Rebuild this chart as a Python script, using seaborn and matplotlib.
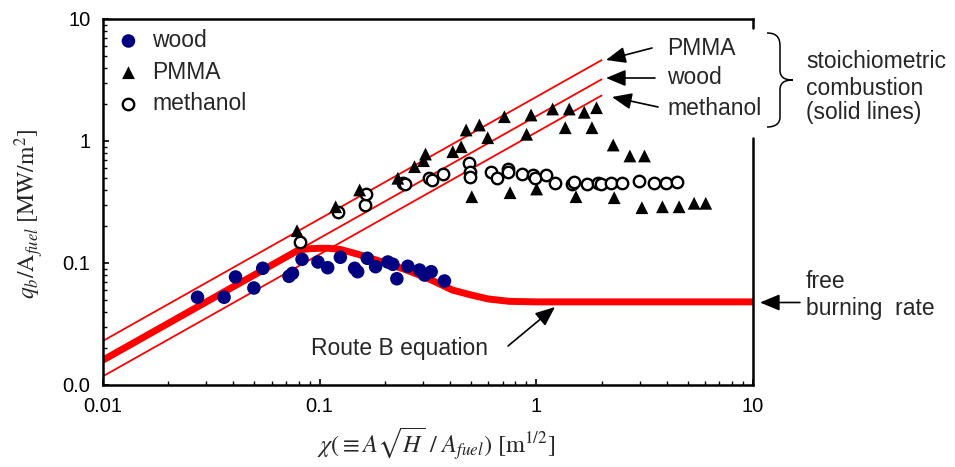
import matplotlib
matplotlib.use("Agg")
import matplotlib.pyplot as plt
import seaborn as sns
from matplotlib.path import Path
from matplotlib.patches import PathPatch, FancyArrowPatch
from matplotlib.lines import Line2D
from matplotlib.ticker import NullFormatter, LogLocator, FixedLocator

# ---------------- data ----------------
wood_x = [0.0273, 0.0362, 0.0409, 0.0497, 0.0546, 0.0722, 0.0749, 0.0829, 0.0982,
          0.1089, 0.1246, 0.145, 0.1497, 0.1659, 0.1812, 0.2064, 0.2177, 0.2271,
          0.2552, 0.289, 0.3047, 0.327, 0.3767]
wood_y = [0.0524, 0.0524, 0.0768, 0.0624, 0.0905, 0.0778, 0.0823, 0.1072, 0.1019,
          0.0915, 0.1114, 0.0905, 0.0848, 0.1093, 0.0933, 0.1019, 0.0976, 0.0743,
          0.094, 0.0876, 0.0797, 0.0848, 0.0712]

pmma_x = [0.0786, 0.1185, 0.1529, 0.2295, 0.274, 0.3016, 0.308, 0.4114, 0.4498,
          0.4743, 0.5461, 0.5965, 0.712, 0.9454, 0.902, 1.189, 1.419, 1.36, 1.664,
          1.806, 1.896, 2.264, 2.703, 3.156, 0.5035, 0.7565, 1.003, 1.524, 2.288,
          3.07, 3.819, 4.56, 5.348, 6.053]
pmma_y = [0.184, 0.289, 0.397, 0.495, 0.616, 0.69, 0.782, 0.817, 0.898,
          1.231, 1.352, 1.064, 1.582, 1.634, 1.135, 1.829, 1.829, 1.285, 1.719,
          1.285, 1.875, 0.927, 0.754, 0.754, 0.3495, 0.377, 0.404, 0.3495, 0.343,
          0.284, 0.289, 0.289, 0.3086, 0.3086]

meth_x = [0.0815, 0.1214, 0.1612, 0.163, 0.2421, 0.2464, 0.3213, 0.3307, 0.370,
          0.4912, 0.4948, 0.4948, 0.6182, 0.6561, 0.7374, 0.7374, 0.8591, 0.9687,
          0.9895, 1.108, 1.219, 1.461, 1.497, 1.705, 1.917, 1.987, 2.209, 2.498,
          2.983, 3.499, 3.961, 4.48]
meth_y = [0.1478, 0.2634, 0.2988, 0.3658, 0.450, 0.4417, 0.5002, 0.4789, 0.5314,
          0.6567, 0.5539, 0.504, 0.5604, 0.5002, 0.5896, 0.554, 0.5365, 0.5264,
          0.5002, 0.5264, 0.450, 0.4417, 0.4587, 0.4417, 0.450, 0.4417, 0.450, 0.450,
          0.470, 0.450, 0.450, 0.4587]

# stoichiometric combustion lines (end points)
stoich_x = [0.01, 2.0]
stoich_pmma = [0.023, 4.6]
stoich_wood = [0.016, 3.2]
stoich_meth = [0.0118, 2.36]

# Route B equation curve
routeb_x = [0.01, 0.03, 0.06, 0.08, 0.09, 0.1, 0.11, 0.125, 0.15, 0.2, 0.25,
            0.32, 0.41, 0.5, 0.6, 0.75, 1.0, 2.0, 5.0, 10.0]
routeb_y = [0.016, 0.048, 0.096, 0.128, 0.131, 0.132, 0.132, 0.129, 0.118, 0.1005,
            0.088, 0.074, 0.060, 0.0547, 0.0507, 0.0485, 0.048, 0.048, 0.048, 0.048]

xticks = [0.01, 0.1, 1, 10]
xticklabels = ["0.01", "0.1", "1", "10"]
yticks = [0.01, 0.1, 1, 10]
yticklabels = ["0.0", "0.1", "1", "10"]

# ---------------- style ----------------
sns.set_style("white")
plt.rcParams['font.family'] = ['Liberation Sans', 'DejaVu Sans']
plt.rcParams['mathtext.fontset'] = 'stix'

W, H = 955, 467
fig = plt.figure(figsize=(W / 100, H / 100), dpi=100)
L, R, T, B = 103, 753, 19, 385
ax = fig.add_axes([L / W, 1 - B / H, (R - L) / W, (B - T) / H])
ax.set_xscale('log')
ax.set_yscale('log')

RED = '#ff0000'
for ys in (stoich_pmma, stoich_wood, stoich_meth):
    sns.lineplot(x=stoich_x, y=ys, ax=ax, color=RED, lw=1.3, estimator=None,
                 sort=False, zorder=2)
sns.lineplot(x=routeb_x, y=routeb_y, ax=ax, color=RED, lw=5.0, estimator=None,
             sort=False, zorder=2, solid_capstyle='butt')

sns.scatterplot(x=wood_x, y=wood_y, ax=ax, marker='o', color='#000080', s=95,
                edgecolor='none', zorder=4, label='wood')
sns.scatterplot(x=pmma_x, y=pmma_y, ax=ax, marker='^', color='black', s=85,
                edgecolor='none', zorder=4, label='PMMA')
sns.scatterplot(x=meth_x, y=meth_y, ax=ax, marker='o', color='white', s=68,
                edgecolor='black', linewidth=1.7, zorder=3, label='methanol')

ax.set_xlim(0.01, 10)
ax.set_ylim(0.01, 10)
ax.xaxis.set_major_locator(FixedLocator(xticks))
ax.set_xticklabels(xticklabels)
ax.yaxis.set_major_locator(FixedLocator(yticks))
ax.set_yticklabels(yticklabels)
ax.xaxis.set_minor_locator(LogLocator(base=10, subs=range(2, 10)))
ax.yaxis.set_minor_locator(LogLocator(base=10, subs=range(2, 10)))
ax.xaxis.set_minor_formatter(NullFormatter())
ax.yaxis.set_minor_formatter(NullFormatter())
ax.tick_params(which='both', direction='in', top=False, right=False,
               bottom=True, left=True, colors='black')
ax.tick_params(which='major', length=4.5, width=1.2, labelsize=14.5, pad=9)
ax.tick_params(which='minor', length=3.2, width=1.0)
ax.set_xlabel('')
ax.set_ylabel('')

for s in ('top', 'left', 'bottom'):
    ax.spines[s].set_visible(True)
    ax.spines[s].set_linewidth(1.8)
    ax.spines[s].set_color('black')
ax.spines['right'].set_visible(False)
# broken right spine
gap_top = (B - 28) / (B - T)
gap_bot = (B - 138) / (B - T)
for y0, y1 in ((gap_top, 1.0), (0.0, gap_bot)):
    ax.add_line(Line2D([1, 1], [y0, y1], transform=ax.transAxes, color='black',
                       lw=1.8, clip_on=False, zorder=5))

# legend
handles, labels = ax.get_legend_handles_labels()
leg = ax.legend(handles, labels, loc='upper left', frameon=False,
                bbox_to_anchor=(117 / W, 1 - 29 / H), bbox_transform=fig.transFigure,
                borderaxespad=0, borderpad=0, handlelength=1.0, handletextpad=0.55,
                labelspacing=0.38, fontsize=16.5, markerscale=1.0)


def fx(x):
    return x / W


def fy(y):
    return 1 - y / H


FS = 16.5
# stoichiometric labels
fig.text(fx(667), fy(55), 'PMMA', fontsize=FS, va='baseline', ha='left')
fig.text(fx(667), fy(83.5), 'wood', fontsize=FS, va='baseline', ha='left')
fig.text(fx(667), fy(115), 'methanol', fontsize=FS, va='baseline', ha='left')

arrowprops = dict(arrowstyle='-|>,head_length=0.6,head_width=0.25', color='black',
                  lw=1.2, shrinkA=0, shrinkB=0, mutation_scale=20)
for (tx, ty), (hx, hy) in (((652, 48), (606, 60)), ((655, 78), (606, 78)),
                           ((658, 107), (612, 97)), ((800, 302.5), (760, 302.5)),
                           ((508, 346), (555, 307))):
    fig.add_artist(FancyArrowPatch(
        (fx(tx), fy(ty)), (fx(hx), fy(hy)), transform=fig.transFigure, **arrowprops))

# brace
pts = [(767, 33), (776, 33), (780, 37), (780, 46), (780, 70), (780, 77), (784, 80),
       (793, 80), (784, 80), (780, 83), (780, 90), (780, 117), (780, 123), (776, 127),
       (767, 127)]
codes = [Path.MOVETO, Path.CURVE4, Path.CURVE4, Path.CURVE4, Path.LINETO,
         Path.CURVE4, Path.CURVE4, Path.CURVE4, Path.CURVE4, Path.CURVE4, Path.CURVE4,
         Path.LINETO, Path.CURVE4, Path.CURVE4, Path.CURVE4]
brace = Path([(fx(x), fy(y)) for x, y in pts], codes)
fig.add_artist(PathPatch(brace, transform=fig.transFigure, fill=False,
                         edgecolor='black', lw=1.1))

fig.text(fx(806), fy(68), 'stoichiometric', fontsize=FS, va='baseline', ha='left')
fig.text(fx(806), fy(95), 'combustion', fontsize=FS, va='baseline', ha='left')
fig.text(fx(806), fy(119), '(solid lines)', fontsize=FS, va='baseline', ha='left')
fig.text(fx(806), fy(288), 'free', fontsize=FS, va='baseline', ha='left')
fig.text(fx(806), fy(315), 'burning  rate', fontsize=FS, va='baseline', ha='left')
fig.text(fx(311), fy(355), 'Route B equation', fontsize=FS, va='baseline', ha='left')

# axis labels
fig.text(fx(436), fy(454), r'$\chi(\equiv A\sqrt{H}\ /\ A_{fuel})\ [\mathrm{m}^{1/2}]$',
         fontsize=17.5, ha='center', va='baseline')
fig.text(fx(29), fy(214), r'$q_b/\mathrm{A}_{fuel}\ [\mathrm{MW/m^2}]$',
         fontsize=17, ha='center', va='center', rotation=90)

fig.savefig('out.png', dpi=100)
